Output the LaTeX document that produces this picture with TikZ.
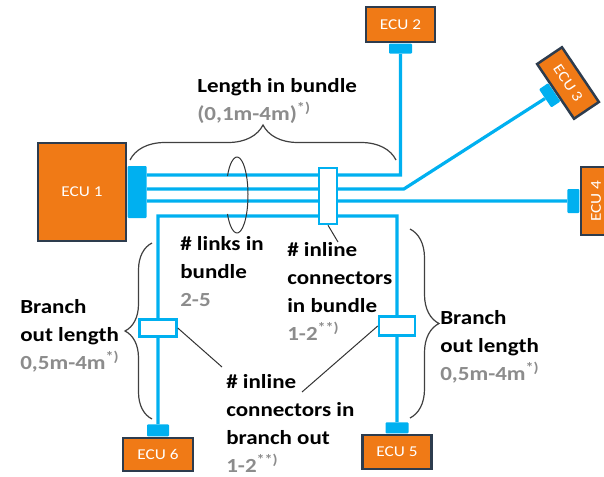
\documentclass[tikz,border=0pt]{standalone}
\usepackage{fontspec}
\setmainfont[FakeStretch=1.15]{Carlito}
\usepackage{xcolor}
\usepackage{tikz}
\usetikzlibrary{calc}
\usetikzlibrary{positioning}
\usetikzlibrary{decorations.pathreplacing}
\definecolor{wireblue}{RGB}{0,176,240}
\definecolor{ecuorange}{RGB}{240,122,22}
\definecolor{ecuedge}{RGB}{45,60,78}
\definecolor{notegray}{RGB}{140,140,140}

\begin{document}
\begin{tikzpicture}[x=1pt,y=-1pt,-,semithick]
 				 \tikzstyle{ecu}=[draw=ecuedge, line width=2.5pt, fill=ecuorange, text=white, font=\fontsize{15}{15}\selectfont, inner sep=0pt]
 				 \tikzstyle{plug}=[fill=wireblue, inner sep=0pt, rounded corners=1pt]
 				 \tikzstyle{wire}=[draw=wireblue, line width=3.2pt]
 				 \tikzstyle{inline}=[draw=wireblue, line width=2.5pt, fill=white, inner sep=0pt]
 				 \tikzstyle{lbl}=[anchor=base west, align=left, inner sep=0pt, font=\bfseries\fontsize{20}{27.7}\selectfont]
 				 \tikzstyle{lead}=[draw=black!80, line width=1pt]
 				 \tikzstyle{cbrace}=[draw=black!75, line width=1.2pt, decorate]
						\useasboundingbox (0,0) rectangle (604,476);

						% control units
						\node[ecu, minimum width=88pt, minimum height=98pt] (e1) at (82,192) {ECU 1};
						\node[ecu, minimum width=69pt, minimum height=35pt] (e2) at (400.5,24.5) {ECU 2};
						\node[ecu, minimum width=66pt, minimum height=30pt, rotate=-56] (e3) at (568,83) {ECU 3};
						\node[ecu, minimum width=68pt, minimum height=30pt, rotate=90] (e4) at (596,201) {ECU 4};
						\node[ecu, minimum width=69pt, minimum height=34pt] (e5) at (397,452) {ECU 5};
						\node[ecu, minimum width=70pt, minimum height=33pt] (e6) at (158,454.5) {ECU 6};

						% plugs
						\node[plug, minimum width=19pt, minimum height=52pt] (c1) [right=0pt of e1] {};
						\node[plug, minimum width=23pt, minimum height=10pt] (c2) [below=0pt of e2] {};
						\node[plug, minimum width=22pt, minimum height=11pt, rotate=-56, anchor=north] (c3) at (e3.south) {};
						\node[plug, minimum width=24pt, minimum height=12pt, rotate=90, anchor=south] (c4) at (e4.north) {};
						\node[plug, minimum width=23pt, minimum height=11pt] (c5) [above=0pt of e5] {};
						\node[plug, minimum width=22pt, minimum height=12pt] (c6) [above=0pt of e6] {};

						% wires
						\coordinate (loop) at (280,216);
						\path[wire]
							([yshift=17pt]c1.east) -| (c2.south)
							([yshift=3pt]c1.east) -- ++(257,0) -- (c3.south)
							(c4.north) -- (c4.north -| c1.east)
							(c6.north) |- (loop) -| (c5.north);

						% inline connectors
						\node[inline, minimum width=18pt, minimum height=56pt] (ib) at (328,196) {};
						\node[inline, minimum width=37pt, minimum height=17pt] (i6) at (158,328) {};
						\node[inline, minimum width=36pt, minimum height=19pt] (i5) at (397,326) {};

						% braces and bundle ring
						\draw[cbrace, decoration={brace, amplitude=35pt}] (130,160) -- (396,160);
						\draw[cbrace, decoration={brace, amplitude=27pt}] (152,419) -- (152,243);
						\draw[cbrace, decoration={brace, amplitude=29pt}] (410,229) -- (410,418);
						\draw[lead] (237,195) ++(150:11 and 38) arc[start angle=150, end angle=-150, x radius=11, y radius=38];

						% labels (placed at their last baseline)
						\node[lbl] (lenlbl) at (197,120) {Length in bundle\\\textcolor{notegray}{(0,1m-4m)\textsuperscript{*)}}};
						\node[lbl] (linklbl) at (180,306) {\# links in\\bundle\\\textcolor{notegray}{2-5}};
						\node[lbl] (inblbl) at (287,340) {\# inline\\connectors\\in bundle\\\textcolor{notegray}{1-2\textsuperscript{**)}}};
						\node[lbl] (brLlbl) at (20,369) {Branch\\out length\\\textcolor{notegray}{0,5m-4m\textsuperscript{*)}}};
						\node[lbl] (brRlbl) at (440,380) {Branch\\out length\\\textcolor{notegray}{0,5m-4m\textsuperscript{*)}}};
						\node[lbl] (inolbl) at (226,472) {\# inline\\connectors in\\branch out\\\textcolor{notegray}{1-2\textsuperscript{**)}}};

						% leaders
						\coordinate (ibtip) at (338,242);
						\coordinate (i6tip) at (222,367);
						\coordinate (i5tip) at (302,392);
						\path[lead]
							(ib.south) -- (ibtip)
							(i6.east) -- (i6tip)
							(i5.west) -- (i5tip);
 				\end{tikzpicture}
\end{document}
